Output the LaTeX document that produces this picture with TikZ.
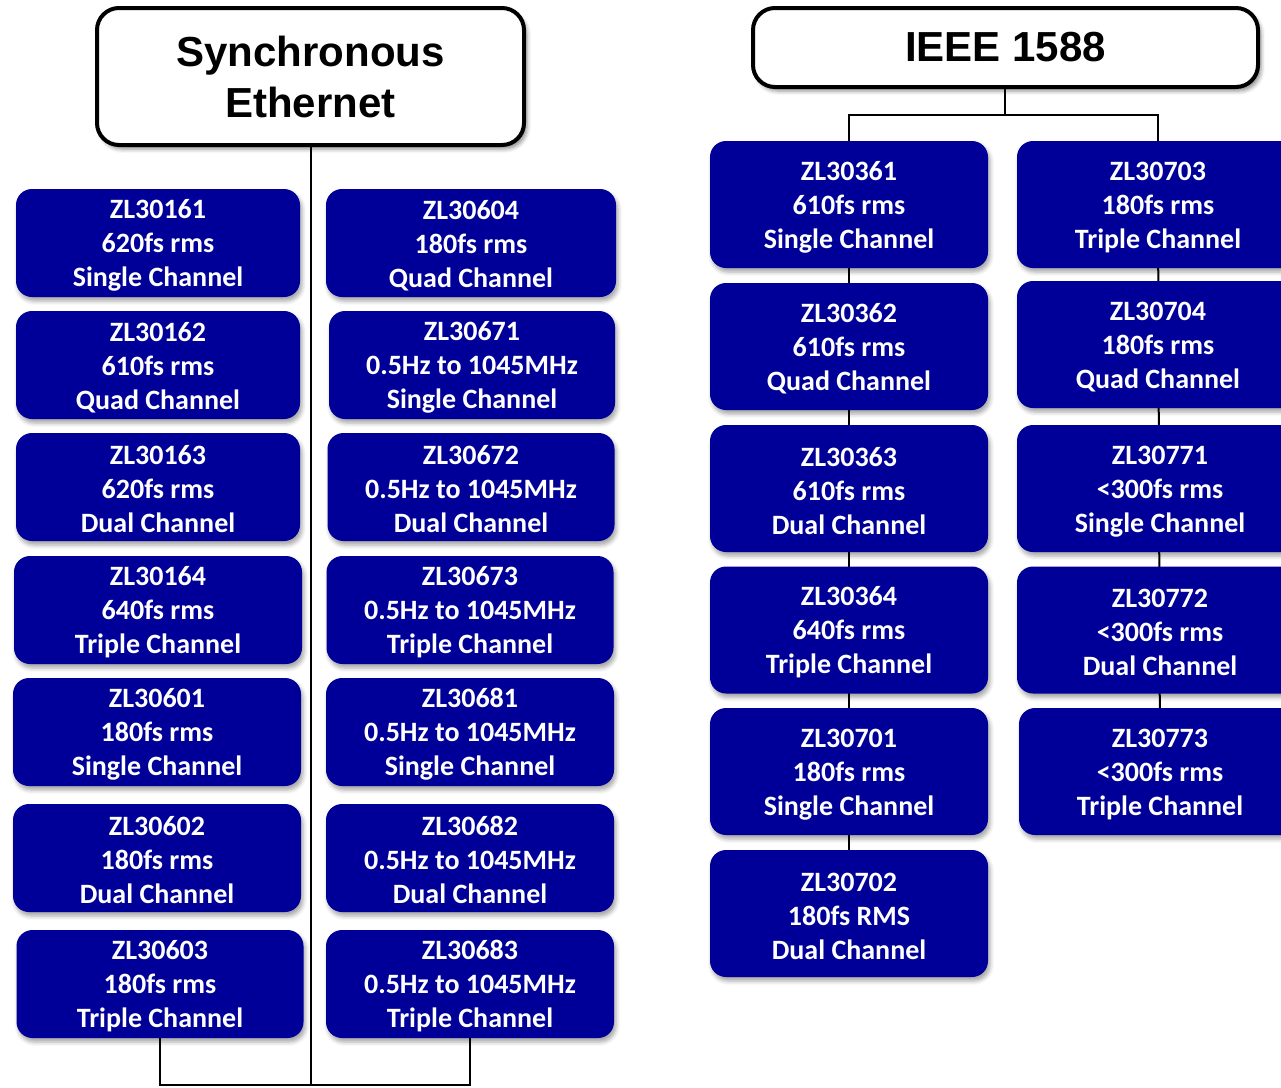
\documentclass[tikz,border=0pt]{standalone}
\usepackage{fontspec}
\setmainfont{Carlito}
\newfontfamily\headfont{Liberation Sans}
\usetikzlibrary{backgrounds, shadows.blur}

\definecolor{chipblue}{RGB}{0,0,153}
% taller first line, so the three lines sit a little lower in the box
\newcommand{\partno}[1]{\rule{0pt}{24pt}#1}

\tikzset{
  family/.style={draw=black, line width=4pt, fill=white, rounded corners=22pt,
    align=center, inner sep=0pt, font=\headfont\bfseries\fontsize{42}{51}\selectfont,
    blur shadow={shadow xshift=3pt, shadow yshift=-4pt, shadow blur radius=4pt, shadow opacity=45}},
  chip/.style={fill=chipblue, text=white, rounded corners=16pt, align=center,
    inner sep=0pt, font=\bfseries\fontsize{28}{34}\selectfont,
    blur shadow={shadow xshift=2pt, shadow yshift=-4pt, shadow blur radius=4pt, shadow opacity=35}},
  sechip/.style={chip, minimum height=108pt},
  ptpchip/.style={chip, minimum height=127pt},
  tree/.style={line width=2pt, black}
}

\begin{document}
\begin{tikzpicture}[x=1pt, y=-1pt]
  \useasboundingbox (0,0) rectangle (1281,1087);
  \begin{scope}
  \clip (0,0) rectangle (1281,1087);

  % Synchronous Ethernet family
  \node[family, minimum width=427pt, minimum height=137pt] (se) at (310.5,76.5) {Synchronous\\Ethernet};

  \node[sechip, minimum width=284pt] (zl30161) at (158,243) {\partno{ZL30161}\\620fs rms\\Single Channel};
  \node[sechip, minimum width=284pt] (zl30162) at (158,365) {\partno{ZL30162}\\610fs rms\\Quad Channel};
  \node[sechip, minimum width=284pt] (zl30163) at (158,487) {\partno{ZL30163}\\620fs rms\\Dual Channel};
  \node[sechip, minimum width=288pt] (zl30164) at (158,610) {\partno{ZL30164}\\640fs rms\\Triple Channel};
  \node[sechip, minimum width=288pt] (zl30601) at (157,732) {\partno{ZL30601}\\180fs rms\\Single Channel};
  \node[sechip, minimum width=288pt] (zl30602) at (157,858) {\partno{ZL30602}\\180fs rms\\Dual Channel};
  \node[sechip, minimum width=287pt] (zl30603) at (160,984) {\partno{ZL30603}\\180fs rms\\Triple Channel};

  \node[sechip, minimum width=290pt] (zl30604) at (471,243) {\partno{ZL30604}\\180fs rms\\Quad Channel};
  \node[sechip, minimum width=286pt] (zl30671) at (472,365) {\partno{ZL30671}\\0.5Hz to 1045MHz\\Single Channel};
  \node[sechip, minimum width=287pt] (zl30672) at (471,487) {\partno{ZL30672}\\0.5Hz to 1045MHz\\Dual Channel};
  \node[sechip, minimum width=287pt] (zl30673) at (470,610) {\partno{ZL30673}\\0.5Hz to 1045MHz\\Triple Channel};
  \node[sechip, minimum width=288pt] (zl30681) at (470,732) {\partno{ZL30681}\\0.5Hz to 1045MHz\\Single Channel};
  \node[sechip, minimum width=288pt] (zl30682) at (470,858) {\partno{ZL30682}\\0.5Hz to 1045MHz\\Dual Channel};
  \node[sechip, minimum width=288pt] (zl30683) at (470,984) {\partno{ZL30683}\\0.5Hz to 1045MHz\\Triple Channel};

  % IEEE 1588 family
  \node[family, minimum width=505pt, minimum height=79pt] (ieee) at (1005.5,47.5) {IEEE 1588};

  \node[ptpchip, minimum width=278pt] (zl30361) at (849,204.5) {\partno{ZL30361}\\610fs rms\\Single Channel};
  \node[ptpchip, minimum width=278pt] (zl30362) at (849,346.5) {\partno{ZL30362}\\610fs rms\\Quad Channel};
  \node[ptpchip, minimum width=278pt] (zl30363) at (849,488.5) {\partno{ZL30363}\\610fs rms\\Dual Channel};
  \node[ptpchip, minimum width=278pt] (zl30364) at (849,630) {\partno{ZL30364}\\640fs rms\\Triple Channel};
  \node[ptpchip, minimum width=278pt] (zl30701) at (849,771.5) {\partno{ZL30701}\\180fs rms\\Single Channel};
  \node[ptpchip, minimum width=278pt] (zl30702) at (849,913.5) {\partno{ZL30702}\\180fs RMS\\Dual Channel};

  \node[ptpchip, minimum width=282pt] (zl30703) at (1158,204.5) {\partno{ZL30703}\\180fs rms\\Triple Channel};
  \node[ptpchip, minimum width=282pt] (zl30704) at (1158,344.5) {\partno{ZL30704}\\180fs rms\\Quad Channel};
  \node[ptpchip, minimum width=286pt] (zl30771) at (1160,488.5) {\partno{ZL30771}\\<300fs rms\\Single Channel};
  \node[ptpchip, minimum width=286pt] (zl30772) at (1160,630) {\partno{ZL30772}\\<300fs rms\\Dual Channel};
  \node[ptpchip, minimum width=282pt] (zl30773) at (1160,771.5) {\partno{ZL30773}\\<300fs rms\\Triple Channel};

  % tree lines, behind the boxes
  \coordinate (sejoin) at (311,1085);
  \coordinate (ieeejoin) at (1005,115);
  \begin{scope}[on background layer]
    \draw[tree] (se.south -| sejoin) -- (sejoin);
    \draw[tree] (zl30603) |- (sejoin) -| (zl30683);
    \draw[tree] (ieee.south -| ieeejoin) -- (ieeejoin);
    \draw[tree] (zl30361) |- (ieeejoin) -| (zl30703);
    \draw[tree] (zl30361) -- (zl30702.center);
    \draw[tree] (zl30703) -- (zl30773.center);
  \end{scope}
  \end{scope}
\end{tikzpicture}
\end{document}
